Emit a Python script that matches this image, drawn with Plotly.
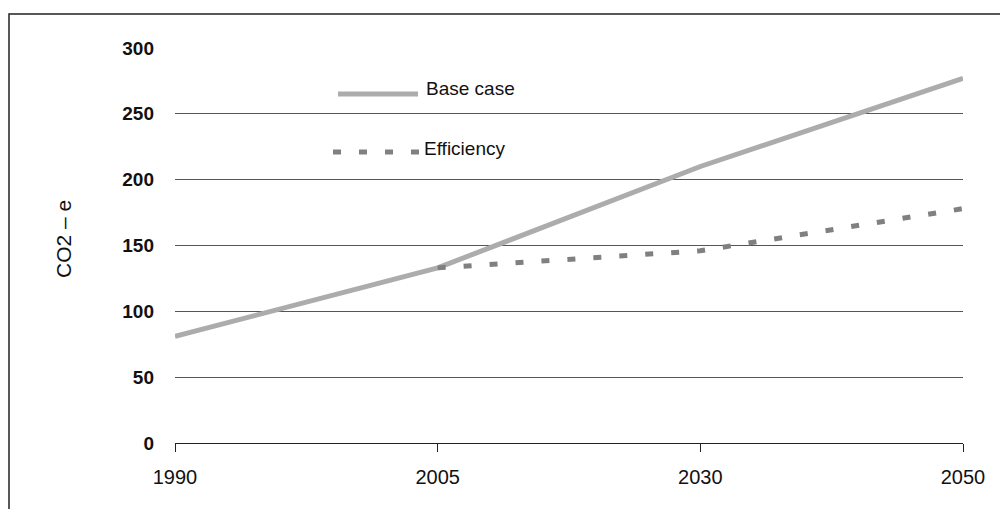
import plotly.graph_objects as go

years = ["1990", "2005", "2030", "2050"]
base_case = [81, 133, 210, 277]
efficiency = [None, 133, 146, 178]
y_ticks = [0, 50, 100, 150, 200, 250, 300]

SANS = "Liberation Sans, Arial, sans-serif"

OFF = 8  # page body margin
W, H = 1000, 501
L, R, T, B = 167, 45, 40, 66
PW, PH = W - L - R, H - T - B

def px(wx):
    return (wx - OFF - L) / PW

def py(wy):
    return (H - B - (wy - OFF)) / PH

fig = go.Figure()
fig.add_trace(go.Scatter(
    x=list(range(len(years))), y=base_case, mode="lines", name="Base case",
    line=dict(color="#acacac", width=5), showlegend=False))
fig.add_trace(go.Scatter(
    x=list(range(len(years))), y=efficiency, mode="lines", name="Efficiency",
    line=dict(color="#808080", width=5, dash="8px,18px"), showlegend=False))

shapes = [
    # outer frame (extends beyond the visible page on right/bottom)
    dict(type="rect", xref="paper", yref="paper", x0=px(9), x1=px(1060),
         y0=py(560), y1=py(14), line=dict(color="#222", width=1.5),
         fillcolor="rgba(0,0,0,0)", layer="below"),
    # legend samples
    dict(type="line", xref="paper", yref="paper", x0=px(338), x1=px(418),
         y0=py(94), y1=py(94), line=dict(color="#acacac", width=5)),
    dict(type="line", xref="paper", yref="paper", x0=px(333), x1=px(422),
         y0=py(152), y1=py(152), line=dict(color="#808080", width=5, dash="8px,18px")),
]

annotations = [
    dict(text="Base case", xref="paper", yref="paper", x=px(424), y=py(88),
         xanchor="left", yanchor="middle", showarrow=False,
         font=dict(family=SANS, size=19, color="#111")),
    dict(text="Efficiency", xref="paper", yref="paper", x=px(422), y=py(148),
         xanchor="left", yanchor="middle", showarrow=False,
         font=dict(family=SANS, size=19, color="#111")),
    dict(text="CO2 – e", xref="paper", yref="paper", x=px(63), y=py(239),
         xanchor="center", yanchor="middle", showarrow=False, textangle=-90,
         font=dict(family=SANS, size=21, color="#111")),
]

fig.update_layout(
    width=W, height=H,
    margin=dict(l=L, r=R, t=T, b=B, autoexpand=False),
    paper_bgcolor="white", plot_bgcolor="white",
    shapes=shapes, annotations=annotations,
    xaxis=dict(
        tickmode="array", tickvals=list(range(len(years))), ticktext=years,
        range=[0, len(years) - 1], showgrid=False, zeroline=False,
        showline=True, linecolor="#222", linewidth=1,
        ticks="outside", ticklen=8, tickcolor="#222", tickwidth=1,
        ticklabelstandoff=8,
        tickfont=dict(family=SANS, size=20, color="#111"),
    ),
    yaxis=dict(
        tickmode="array", tickvals=y_ticks, ticktext=[f"<b>{v}</b>" for v in y_ticks],
        range=[0, 300], showgrid=True, gridcolor="#555", gridwidth=1,
        zeroline=False, showline=False, ticks="",
        ticklabelstandoff=20,
        tickfont=dict(family=SANS, size=19, color="#111"),
    ),
)

fig.write_html("out.html")
